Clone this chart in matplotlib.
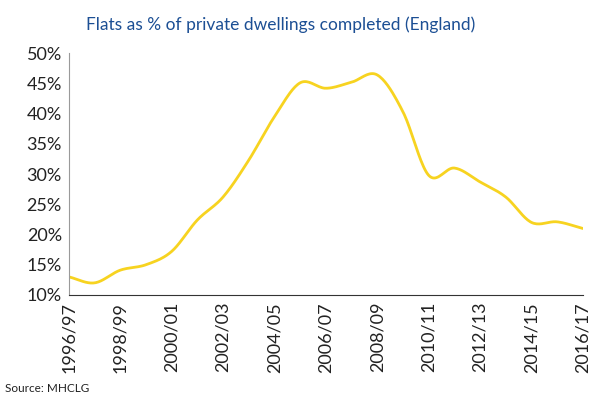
import numpy as np
import matplotlib
matplotlib.use("Agg")
import matplotlib.pyplot as plt

YEARS = ["1996/97", "1997/98", "1998/99", "1999/00", "2000/01", "2001/02", "2002/03",
         "2003/04", "2004/05", "2005/06", "2006/07", "2007/08", "2008/09", "2009/10",
         "2010/11", "2011/12", "2012/13", "2013/14", "2014/15", "2015/16", "2016/17"]
FLATS_PCT = [13.0, 12.0, 14.1, 15.0, 17.2, 22.4, 26.2, 32.3, 39.5, 45.1, 44.2,
             45.2, 46.4, 40.3, 29.8, 31.0, 28.7, 26.2, 22.0, 22.1, 21.0]
Y_TICKS = [10, 15, 20, 25, 30, 35, 40, 45, 50]

LINE_COLOR = "#f7d320"
TITLE_COLOR = "#1c4f94"
TEXT_COLOR = "#222222"


def catmull_rom(x, y, n=20):
    # smooth curve through the points (the original chart uses a smoothed line)
    x = np.asarray(x, float)
    y = np.asarray(y, float)
    px = np.concatenate([[2 * x[0] - x[1]], x, [2 * x[-1] - x[-2]]])
    py = np.concatenate([[2 * y[0] - y[1]], y, [2 * y[-1] - y[-2]]])
    xs, ys = [], []
    t = np.linspace(0, 1, n, endpoint=False)
    for i in range(1, len(px) - 2):
        for p, out in ((px, xs), (py, ys)):
            p0, p1, p2, p3 = p[i - 1], p[i], p[i + 1], p[i + 2]
            out.extend(0.5 * ((2 * p1) + (-p0 + p2) * t
                              + (2 * p0 - 5 * p1 + 4 * p2 - p3) * t ** 2
                              + (-p0 + 3 * p1 - 3 * p2 + p3) * t ** 3))
    xs.append(x[-1])
    ys.append(y[-1])
    return np.array(xs), np.array(ys)


def main():
    plt.rcParams["font.family"] = ["Lato", "DejaVu Sans"]
    fig = plt.figure(figsize=(5.93, 3.97), dpi=100)
    ax = fig.add_axes([0.116, 0.257, 0.867, 0.609])

    x = np.arange(len(YEARS))
    sx, sy = catmull_rom(x, FLATS_PCT)
    ax.plot(sx, sy, color=LINE_COLOR, linewidth=2.0, solid_capstyle="round")

    ax.set_xlim(0, len(YEARS) - 1)
    ax.set_ylim(10, 50)
    ax.set_yticks(Y_TICKS)
    ax.set_yticklabels([f"{v}%" for v in Y_TICKS], fontsize=13, color=TEXT_COLOR)
    ax.set_xticks(x[::2])
    ax.set_xticklabels(YEARS[::2], rotation=90, fontsize=13, color=TEXT_COLOR)
    ax.tick_params(axis="both", length=0, pad=5)

    ax.spines["top"].set_visible(False)
    ax.spines["right"].set_visible(False)
    ax.spines["left"].set_color("#9a9a9a")
    ax.spines["bottom"].set_color("#333333")

    fig.text(0.474, 0.937, "Flats as % of private dwellings completed (England)",
             ha="center", va="center", fontsize=12.5, color=TITLE_COLOR)
    fig.text(0.008, 0.022, "Source: MHCLG", ha="left", va="center",
             fontsize=8.5, color=TEXT_COLOR)

    fig.savefig("out.png", dpi=100, facecolor="white")


if __name__ == "__main__":
    main()
